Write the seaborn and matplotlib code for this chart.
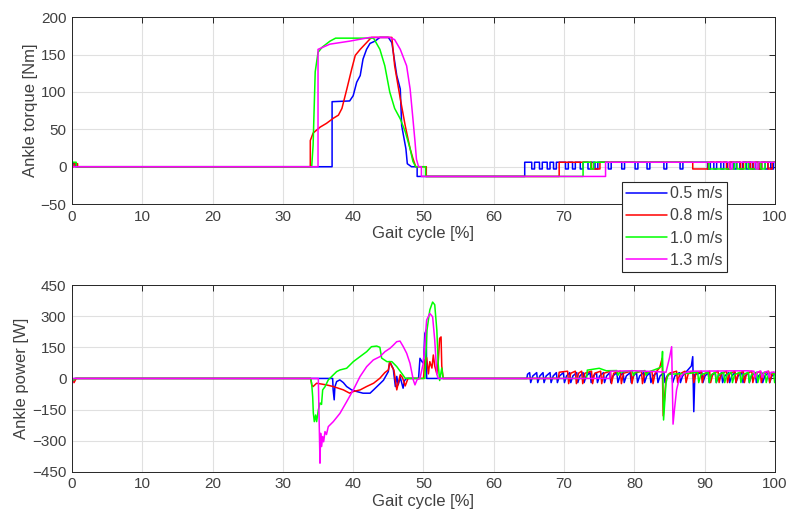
import numpy as np
import pandas as pd
import matplotlib
matplotlib.use("Agg")
import matplotlib.pyplot as plt
import seaborn as sns
from matplotlib.lines import Line2D

# ---------------- data ----------------
speeds = ["0.5 m/s", "0.8 m/s", "1.0 m/s", "1.3 m/s"]
colors = ["#0000ff", "#ff0000", "#00ff00", "#ff00ff"]

x_ticks = [0, 10, 20, 30, 40, 50, 60, 70, 80, 90, 100]
torque_ticks = [-50, 0, 50, 100, 150, 200]
power_ticks = [-450, -300, -150, 0, 150, 300, 450]

# torque: main stance shape (gait %, Nm)
blue_torque_x = [0, 0.1, 0.1, 0.5, 0.5, 37.0, 37.0, 39.5, 40.0, 40.5, 41.0, 41.4, 41.9, 42.4, 43.1, 43.8, 45.0, 45.5,
                 46.2, 46.7, 46.9, 47.5, 47.7, 48.3, 49.1, 49.1, 64.4]
blue_torque_y = [0, 0, 4, 4, 0, 0, 87, 88, 95, 113, 122, 144, 157, 165, 168, 173, 173, 166,
                 122, 104, 55, 24, 4, 0, 0, -13, -13]
red_torque_x = [0, 0.3, 0.3, 0.8, 0.8, 33.9, 33.9, 34.3, 35.3, 36.2, 37.2, 37.9, 38.4, 39.1, 39.8, 40.3, 41.0, 41.7,
                42.6, 45.5, 45.9, 46.7, 47.4, 48.1, 48.5, 48.9, 50.4, 50.4, 69.3]
red_torque_y = [0, 0, 4, 4, 0, 0, 35, 45, 53, 58, 65, 69, 78, 104, 131, 149, 157, 164,
                173, 173, 135, 91, 55, 24, 11, 0, 0, -13, -13]
green_torque_x = [0, 0.05, 0.05, 0.6, 0.6, 34.1, 34.3, 34.6, 35.0, 35.6, 36.7, 37.5, 42.9, 43.8, 44.5, 45.2, 45.9,
                  46.7, 47.4, 48.1, 48.5, 48.9, 50.3, 50.3, 72.7]
green_torque_y = [0, 0, 6, 6, 0, 0, 29, 127, 153, 160, 168, 172, 172, 157, 135, 100, 78,
                  64, 47, 24, 7, 0, 0, -13, -13]
magenta_torque_x = [0, 35.0, 35.0, 36.7, 39.5, 42.4, 45.2, 45.9, 46.7, 47.6, 48.1, 48.5, 48.8, 49.0, 49.3,
                    49.7, 49.7, 75.9]
magenta_torque_y = [0, 0, 157, 164, 168, 173, 173, 170, 157, 135, 104, 64, 33, 10, 0,
                    0, -13, -13]

# torque: late-cycle pulse region (rise point and dips, gait %)
torque_high, torque_low = 6, -3
blue_torque_dips = [(65.4, 65.8), (66.5, 66.9), (67.6, 68.0), (68.5, 68.9), (70.2, 70.6), (71.2, 71.6),
                    (72.3, 72.7), (73.4, 73.8), (74.4, 74.8), (76.3, 76.7), (78.2, 78.6), (80.1, 80.5),
                    (81.8, 82.2), (84.2, 84.6), (86.5, 86.9), (90.4, 90.8), (91.3, 91.7), (92.3, 92.7),
                    (93.2, 93.6), (94.1, 94.5), (95.0, 95.4), (95.9, 96.3), (96.8, 97.2), (97.7, 98.1),
                    (98.6, 99.0), (99.4, 99.8)]
red_torque_dips = [(73.9, 75.1), (88.3, 90.5), (93.1, 93.5), (95.1, 95.5), (96.5, 96.9), (97.7, 98.1),
                   (99.0, 99.6)]
green_torque_dips = [(73.8, 74.2), (90.6, 94.2), (94.6, 95.8), (96.2, 97.6), (98.0, 98.6)]
magenta_torque_dips = [(93.6, 93.9), (97.3, 97.6)]

# power: main stance shape (gait %, W)
blue_power_x = [0, 0.2, 0.4, 37.08, 37.15, 37.3, 37.4, 37.65, 38.1, 38.6, 39.07, 39.78, 40.5, 41.4, 42.4, 42.9,
                44.3, 45.0, 45.2, 45.7, 46.0, 46.2, 46.4, 46.7, 47.1, 47.3, 47.6, 49.3, 49.5, 49.8, 50.0,
                50.2, 50.4, 50.45, 64.7]
blue_power_y = [0, -15, 0, 0, -55, -103, -40, -15, -7, -20, -39, -55, -63, -71, -71, -55,
                -9, 33, 81, 47, -39, 10, -31, 5, -47, -10, 0, 0, 97, 80, 73,
                217, 233, 0, 0]
red_power_x = [0, 0.3, 0.6, 33.95, 34.1, 34.3, 34.8, 36.2, 37.17, 38.6, 39.5, 40.0, 41.0, 41.9, 42.9, 43.8,
               44.5, 45.0, 45.2, 45.5, 45.8, 46.0, 46.2, 46.5, 46.7, 47.0, 47.4, 47.8, 50.0, 50.2, 50.45,
               50.7, 50.9, 51.2, 51.4, 51.6, 51.9, 52.1, 52.3, 52.5, 52.6, 52.8, 69.2]
red_power_y = [0, -20, 0, 0, -31, -39, -23, -31, -39, -55, -71, -63, -55, -39, -23, 1,
               28, 41, 81, 57, 40, -7, -55, -10, 18, 5, -36, 0, 0, 89, 100,
               22, 81, 50, 113, 60, 22, 81, 193, 200, 60, 0, 0]
green_power_x = [0, 0.2, 0.5, 33.95, 34.09, 34.24, 34.33, 34.47, 34.66, 34.8, 35.04, 35.28, 35.5, 35.66, 35.99,
                 36.46, 37.17, 37.65, 38.12, 39.07, 40.02, 40.97, 41.92, 42.6, 43.34, 43.8, 44.05, 44.8,
                 45.5, 46.2, 46.9, 47.4, 50.2, 50.5, 50.9, 51.3, 51.6, 51.9, 52.1, 52.3, 52.6, 52.8, 73.2]
green_power_y = [0, -10, 0, 0, -22, -88, -166, -208, -176, -208, -152, -118, -125, -55, -40,
                 -7, 17, 33, 41, 49, 81, 105, 129, 153, 156, 150, 98, 81,
                 81, 57, 25, 1, 0, 233, 330, 368, 355, 233, 67, -10, 50, 0, 0]
magenta_power_x = [0, 0.05, 0.1, 35.04, 35.28, 35.37, 35.51, 35.66, 35.8, 35.99, 36.2, 36.46, 37.17, 38.12,
                   39.07, 40.02, 40.97, 41.92, 42.86, 43.81, 44.52, 45.23, 45.7, 46.19, 46.66, 47.13, 47.61,
                   48.08, 48.55, 48.79, 49.1, 49.5, 49.97, 50.45, 50.9, 51.3, 51.6, 51.9, 52.1, 76.5]
magenta_power_y = [30, -25, 0, 0, -408, -264, -328, -280, -305, -256, -270, -232, -208, -168,
                   -112, -55, 9, 57, 89, 105, 129, 145, 160, 177, 180, 153, 121,
                   73, -7, -31, -5, 0, 73, 281, 313, 297, 185, 20, 0, 0]

# power: late-cycle sawtooth dips and spikes (gait %, W)
blue_power_dips_a = [65.1, 66.1, 67.0, 68.0, 68.9, 69.9, 70.8, 71.8, 72.7, 73.7, 74.6, 75.6, 76.5, 77.5, 78.4,
                     79.4, 80.3, 81.3, 82.2, 83.2, 84.2, 85.3, 86.4]
blue_power_spike_x = [87.2, 88.1, 88.3, 88.45, 88.6, 89.0]
blue_power_spike_y = [25, 60, 105, -160, 20, 22]
blue_power_dips_b = [89.6, 90.5, 91.5, 92.4, 93.4, 94.3, 95.3, 96.2, 97.2, 98.1, 99.1]
red_power_dips_a = [70.5, 71.6, 72.5, 73.9, 75.2, 76.6, 78.0, 79.5, 81.0, 82.5]
red_power_spike_x = [83.3, 83.6, 83.95, 84.1, 84.5, 85.0]
red_power_spike_y = [40, 52, 97, -180, 0, 25]
red_power_dips_b = [86.0, 87.2, 88.3, 89.5, 90.7, 91.9, 93.1, 94.3, 95.5, 96.7, 97.9, 99.1]
green_power_dips_a = [77.5, 79.7, 81.5]
green_power_spike_x = [83.5, 83.9, 84.0, 84.15, 84.5, 84.8, 88.0]
green_power_spike_y = [50, 60, 130, -200, -20, 20, 25]
green_power_dips_b = [89.0, 90.5, 91.5, 92.7, 93.8, 95.0, 96.2, 97.4, 98.6, 99.8]
magenta_power_spike_x = [84.5, 85.0, 85.3, 85.5, 85.7, 86.0, 86.4, 87.0, 88.0, 96.0]
magenta_power_spike_y = [30, 100, 153, -220, -150, -55, 0, 25, 35, 37]
magenta_power_dips_b = [97.0, 98.0, 99.0]


# ---------------- build line vertices ----------------
def torque_series(xs, ys, dips):
    vx, vy = list(xs), list(ys)
    vx.append(xs[-1]); vy.append(torque_high)
    for a, b in dips:
        vx += [a, a, b, b]
        vy += [torque_high, torque_low, torque_low, torque_high]
    vx.append(100); vy.append(torque_high)
    return vx, vy


def power_pulses(dips, hi, lo, base):
    vx, vy = [], []
    for d in dips:
        vx += [d, d + 0.15, d + 0.45]
        vy += [hi, lo, base]
    return vx, vy


rows = []
t_series = [(blue_torque_x, blue_torque_y, blue_torque_dips),
            (red_torque_x, red_torque_y, red_torque_dips),
            (green_torque_x, green_torque_y, green_torque_dips),
            (magenta_torque_x, magenta_torque_y, magenta_torque_dips)]
for s, (xs, ys, dips) in zip(speeds, t_series):
    vx, vy = torque_series(xs, ys, dips)
    rows += [("torque", s, i, a, b) for i, (a, b) in enumerate(zip(vx, vy))]

def assemble(parts):
    vx, vy = [], []
    for px, py in parts:
        vx += list(px); vy += list(py)
    return vx, vy

p_series = {
    speeds[0]: assemble([(blue_power_x, blue_power_y), ([64.8], [20]),
                         power_pulses(blue_power_dips_a, 28, -20, 12),
                         (blue_power_spike_x, blue_power_spike_y),
                         power_pulses(blue_power_dips_b, 28, -20, 12), ([100], [20])]),
    speeds[1]: assemble([(red_power_x, red_power_y), ([69.3], [30]),
                         power_pulses(red_power_dips_a, 35, -25, 25),
                         (red_power_spike_x, red_power_spike_y),
                         power_pulses(red_power_dips_b, 35, -20, 22), ([100], [20])]),
    speeds[2]: assemble([(green_power_x, green_power_y), ([73.3, 75.0, 76.0], [40, 49, 37]),
                         power_pulses(green_power_dips_a, 38, 15, 30),
                         (green_power_spike_x, green_power_spike_y),
                         power_pulses(green_power_dips_b, 30, -20, 18), ([100], [20])]),
    speeds[3]: assemble([(magenta_power_x, magenta_power_y), ([76.6, 80.0, 83.0], [35, 37, 33]),
                         (magenta_power_spike_x, magenta_power_spike_y),
                         power_pulses(magenta_power_dips_b, 35, 5, 30), ([100], [30])]),
}
for s in speeds:
    vx, vy = p_series[s]
    rows += [("power", s, i, a, b) for i, (a, b) in enumerate(zip(vx, vy))]

df = pd.DataFrame(rows, columns=["kind", "speed", "order", "x", "y"])

# ---------------- plot ----------------
sns.set_theme(style="white")
plt.rcParams["font.family"] = ["Liberation Sans", "DejaVu Sans"]
text_c = "#404040"
spine_c = "#262626"

fig = plt.figure(figsize=(7.9, 5.22), dpi=100)
ax1 = fig.add_axes([0.0911, 0.609, 0.8899, 0.358])
ax2 = fig.add_axes([0.0911, 0.096, 0.8899, 0.358])

pal = dict(zip(speeds, colors))
for ax, kind in [(ax1, "torque"), (ax2, "power")]:
    sns.lineplot(data=df[df.kind == kind], x="x", y="y", hue="speed", hue_order=speeds,
                 palette=pal, estimator=None, sort=False, units="speed", linewidth=1.1,
                 legend=False, ax=ax)

for ax, ticks, ylab in [(ax1, torque_ticks, "Ankle torque [Nm]"), (ax2, power_ticks, "Ankle power [W]")]:
    ax.set_xlim(0, 100)
    ax.set_ylim(ticks[0], ticks[-1])
    ax.set_xticks(x_ticks)
    ax.set_yticks(ticks)
    ax.grid(True, color="#e0e0e0", linewidth=0.8)
    ax.set_axisbelow(True)
    ax.tick_params(direction="in", top=True, right=True, length=4, width=0.7,
                   colors=spine_c, labelcolor=text_c, labelsize=11, pad=4)
    for sp in ax.spines.values():
        sp.set_color(spine_c)
        sp.set_linewidth(0.7)
    ax.set_xlabel("Gait cycle [%]", fontsize=12, color=text_c, labelpad=2)
    ax.set_ylabel(ylab, fontsize=12, color=text_c, labelpad=2)

handles = [Line2D([0], [0], color=c, lw=1.1) for c in colors]
leg = fig.legend(handles, speeds, loc="upper left", bbox_to_anchor=(0.787, 0.651),
                 frameon=True, fancybox=False, framealpha=1.0, edgecolor=spine_c, fontsize=11.5,
                 handlelength=2.6, handletextpad=0.2, labelspacing=0.45, borderpad=0.25,
                 borderaxespad=0)
leg.get_frame().set_linewidth(0.8)
for t in leg.get_texts():
    t.set_color(text_c)

fig.savefig("out.png", dpi=100, facecolor="white")
